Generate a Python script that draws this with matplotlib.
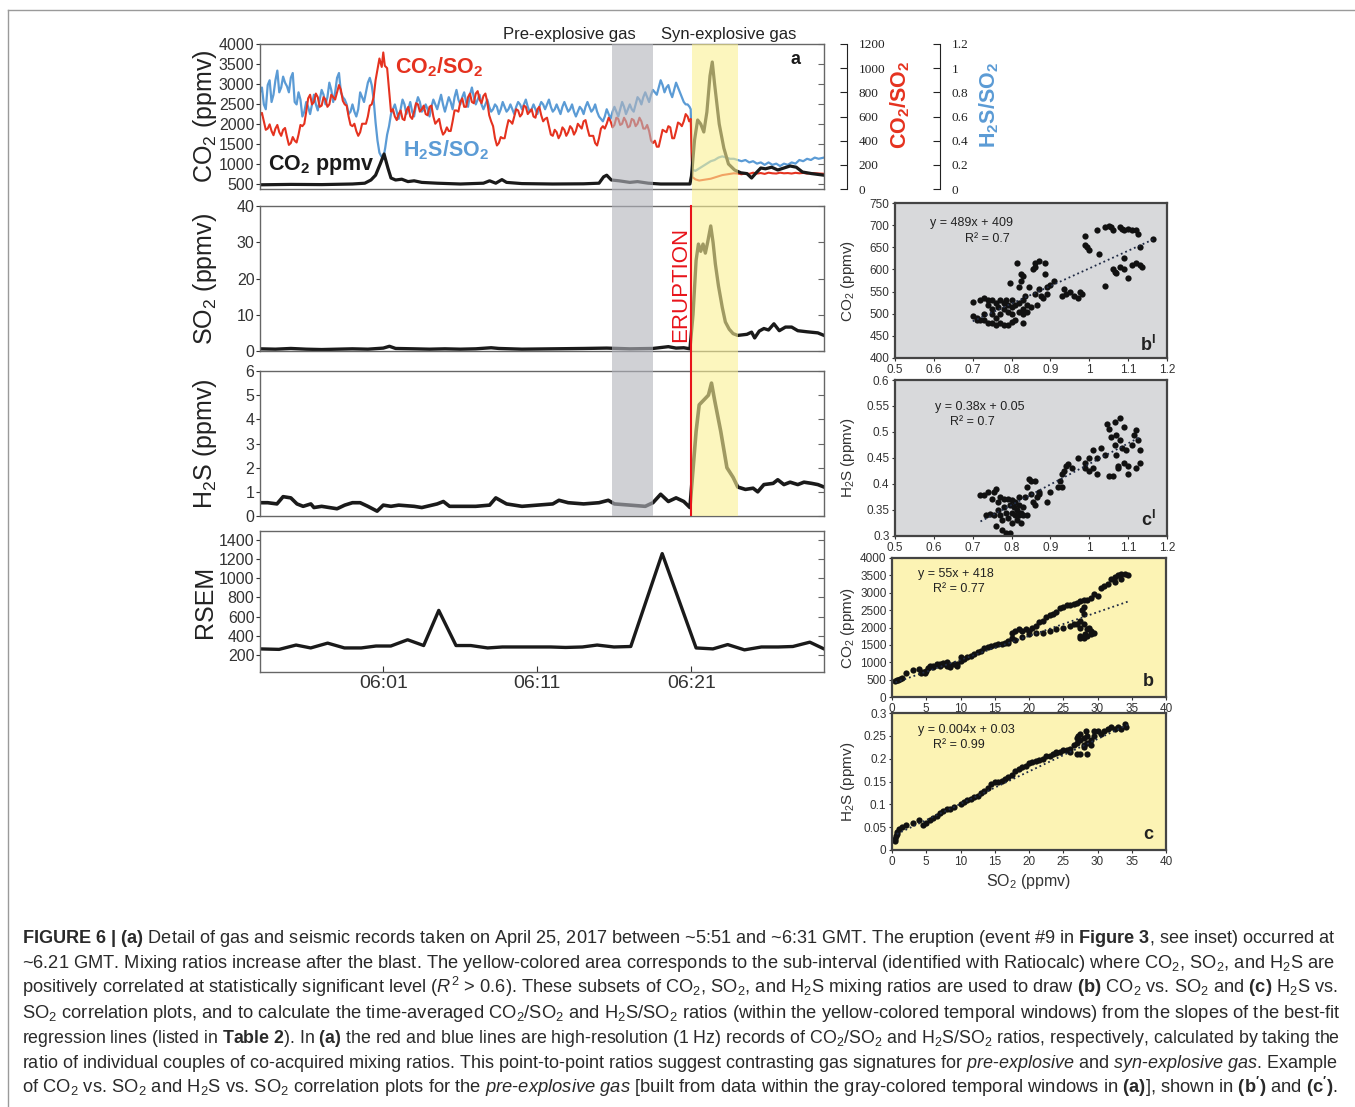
"""
Figure 6 recreation: gas ratios, SO2, H2S, RSEM time series and the
CO2/H2S vs SO2 correlation plots of the pre- and syn-explosive gas.
"""

import matplotlib.pyplot as plt
from matplotlib.lines import Line2D

plt.rcParams["font.family"] = ["Liberation Sans", "DejaVu Sans"]
plt.rcParams["mathtext.fontset"] = "custom"
plt.rcParams["mathtext.rm"] = "Liberation Sans"
plt.rcParams["mathtext.it"] = "Liberation Sans:italic"
plt.rcParams["mathtext.bf"] = "Liberation Sans:bold"

# ---------------------------------------------------------------- data
# time axis: minutes after 06:00 GMT
t_min, t_max = -7.0, 29.6
pre_window = (15.87, 18.53)
syn_window = (21.06, 24.05)
eruption_t = 20.95
time_ticks = [1, 11, 21]
time_labels = ["06:01", "06:11", "06:21"]

# CO2/SO2 ratio (1 Hz record, read every ~15 s)
co2so2 = [
    (-7.0, 610), (-6.75, 560), (-6.5, 500), (-6.25, 480), (-6.0, 500),
    (-5.75, 470), (-5.5, 490), (-5.25, 430), (-5.0, 380), (-4.75, 400),
    (-4.5, 450), (-4.25, 520), (-4.0, 640), (-3.75, 780), (-3.5, 720),
    (-3.25, 760), (-3.0, 690), (-2.75, 740), (-2.5, 700), (-2.25, 760),
    (-2.0, 800), (-1.75, 820), (-1.5, 700), (-1.25, 600), (-1.0, 520),
    (-0.75, 480), (-0.5, 470), (-0.25, 540), (0.0, 600), (0.25, 700),
    (0.5, 900), (0.75, 1080), (0.9, 1010), (1.0, 1130), (1.1, 1020),
    (1.25, 1000), (1.5, 640), (1.75, 600), (2.0, 620), (2.25, 580),
    (2.5, 650), (2.75, 600), (3.0, 640), (3.25, 700), (3.5, 660),
    (3.75, 620), (4.0, 680), (4.25, 600), (4.5, 560), (4.75, 500),
    (5.0, 470), (5.25, 480), (5.5, 560), (5.75, 650), (6.0, 720),
    (6.25, 680), (6.5, 760), (6.75, 720), (7.0, 790), (7.25, 740),
    (7.5, 770), (7.75, 720), (8.0, 560), (8.25, 420), (8.5, 380),
    (8.75, 420), (9.0, 500), (9.25, 560), (9.5, 600), (9.75, 650),
    (10.0, 620), (10.25, 680), (10.5, 640), (10.75, 600), (11.0, 660),
    (11.25, 610), (11.5, 580), (11.75, 520), (12.0, 440), (12.25, 470),
    (12.5, 450), (12.75, 490), (13.0, 470), (13.25, 500), (13.5, 480),
    (13.75, 520), (14.0, 560), (14.25, 500), (14.5, 440), (14.75, 380),
    (15.0, 420), (15.25, 520), (15.5, 540), (15.75, 560), (16.0, 530),
    (16.25, 580), (16.5, 540), (16.75, 560), (17.0, 520), (17.25, 570),
    (17.5, 540), (17.75, 560), (18.0, 500), (18.25, 480), (18.5, 380),
    (18.75, 350), (19.0, 420), (19.25, 480), (19.5, 520), (19.75, 420),
    (20.0, 480), (20.25, 540), (20.5, 560), (20.75, 600), (20.95, 580),
    (21.05, 100), (21.25, 80), (21.5, 70), (21.75, 75), (22.0, 80),
    (22.25, 85), (22.5, 95), (22.75, 105), (23.0, 115), (23.25, 120),
    (23.5, 125), (23.75, 130), (24.0, 128), (24.25, 122), (24.5, 130),
    (24.75, 125), (25.0, 135), (25.25, 128), (25.5, 132), (25.75, 125),
    (26.0, 135), (26.25, 130), (26.5, 128), (26.75, 135), (27.0, 130),
    (27.25, 132), (27.5, 128), (27.75, 134), (28.0, 130), (28.25, 133),
    (28.5, 128), (28.75, 132), (29.0, 130), (29.25, 128), (29.6, 126),
]
# in-between samples showing the 1 Hz scatter of the ratio
co2so2_detail = [
    (-6.875, 630), (-6.625, 490), (-6.375, 535), (-6.125, 445), (-5.875, 530),
    (-5.625, 440), (-5.375, 505), (-5.125, 365), (-4.875, 430), (-4.625, 385),
    (-4.375, 530), (-4.125, 540), (-3.875, 750), (-3.625, 700), (-3.375, 790),
    (-3.125, 680), (-2.875, 760), (-2.625, 680), (-2.375, 780), (-2.125, 740),
    (-1.875, 860), (-1.625, 730), (-1.375, 690), (-1.125, 530), (-0.875, 540),
    (-0.625, 440), (-0.375, 540), (-0.125, 540), (0.125, 690), (0.375, 760),
    (1.625, 660), (1.875, 570), (2.125, 650), (2.375, 570), (2.625, 680),
    (2.875, 580), (3.125, 710), (3.375, 640), (3.625, 690), (3.875, 610),
    (4.125, 690), (4.375, 540), (4.625, 580), (4.875, 450), (5.125, 510),
    (5.375, 480), (5.625, 650), (5.875, 640), (6.125, 750), (6.375, 680),
    (6.625, 790), (6.875, 710), (7.125, 810), (7.375, 710), (7.625, 790),
    (7.875, 610), (8.125, 520), (8.375, 360), (8.625, 430), (8.875, 420),
    (9.125, 570), (9.375, 540), (9.625, 660), (9.875, 600), (10.125, 690),
    (10.375, 620), (10.625, 660), (10.875, 590), (11.125, 680), (11.375, 560),
    (11.625, 590), (11.875, 450), (12.125, 490), (12.375, 420), (12.625, 510),
    (12.875, 440), (13.125, 520), (13.375, 450), (13.625, 540), (13.875, 500),
    (14.125, 570), (14.375, 440), (14.625, 440), (14.875, 360), (15.125, 500),
    (15.375, 500), (15.625, 590), (15.875, 510), (16.125, 590), (16.375, 530),
    (16.625, 590), (16.875, 510), (17.125, 580), (17.375, 520), (17.625, 590),
    (17.875, 500), (18.125, 530), (18.375, 400), (18.625, 400), (18.875, 350),
    (19.125, 490), (19.375, 470), (19.625, 510), (19.875, 420), (20.125, 550),
    (20.375, 520), (20.625, 620), (20.85, 560),
]

# H2S/SO2 ratio
h2sso2 = [
    (-7.0, 0.80), (-6.75, 0.70), (-6.5, 0.86), (-6.25, 0.72), (-6.0, 0.90),
    (-5.75, 0.80), (-5.5, 0.93), (-5.25, 0.85), (-5.0, 0.92), (-4.75, 0.72),
    (-4.5, 0.80), (-4.25, 0.60), (-4.0, 0.72), (-3.75, 0.62), (-3.5, 0.78),
    (-3.25, 0.65), (-3.0, 0.82), (-2.75, 0.70), (-2.5, 0.88), (-2.25, 0.72),
    (-2.0, 0.92), (-1.75, 0.80), (-1.5, 0.74), (-1.25, 0.62), (-1.0, 0.70),
    (-0.75, 0.60), (-0.5, 0.80), (-0.25, 0.72), (0.0, 0.88), (0.25, 0.86),
    (0.5, 0.55), (0.75, 0.30), (1.0, 0.25), (1.25, 0.45), (1.5, 0.62),
    (1.75, 0.70), (2.0, 0.58), (2.25, 0.74), (2.5, 0.62), (2.75, 0.72),
    (3.0, 0.60), (3.25, 0.76), (3.5, 0.64), (3.75, 0.70), (4.0, 0.60),
    (4.25, 0.74), (4.5, 0.66), (4.75, 0.78), (5.0, 0.64), (5.25, 0.76),
    (5.5, 0.66), (5.75, 0.82), (6.0, 0.70), (6.25, 0.80), (6.5, 0.68),
    (6.75, 0.84), (7.0, 0.70), (7.25, 0.78), (7.5, 0.66), (7.75, 0.74),
    (8.0, 0.64), (8.25, 0.70), (8.5, 0.62), (8.75, 0.72), (9.0, 0.64),
    (9.25, 0.70), (9.5, 0.62), (9.75, 0.72), (10.0, 0.66), (10.25, 0.74),
    (10.5, 0.64), (10.75, 0.70), (11.0, 0.62), (11.25, 0.72), (11.5, 0.66),
    (11.75, 0.74), (12.0, 0.64), (12.25, 0.70), (12.5, 0.62), (12.75, 0.72),
    (13.0, 0.64), (13.25, 0.70), (13.5, 0.60), (13.75, 0.68), (14.0, 0.62),
    (14.25, 0.72), (14.5, 0.64), (14.75, 0.70), (15.0, 0.60), (15.25, 0.56),
    (15.5, 0.66), (15.75, 0.58), (16.0, 0.68), (16.25, 0.60), (16.5, 0.72),
    (16.75, 0.62), (17.0, 0.70), (17.25, 0.64), (17.5, 0.76), (17.75, 0.70),
    (18.0, 0.80), (18.25, 0.72), (18.5, 0.82), (18.75, 0.78), (19.0, 0.90),
    (19.25, 0.80), (19.5, 0.86), (19.75, 0.76), (20.0, 0.88), (20.25, 0.80),
    (20.5, 0.72), (20.75, 0.70), (20.95, 0.66), (21.05, 0.16), (21.25, 0.15),
    (21.5, 0.17), (21.75, 0.19), (22.0, 0.21), (22.25, 0.23), (22.5, 0.24),
    (22.75, 0.26), (23.0, 0.27), (23.25, 0.26), (23.5, 0.25), (23.75, 0.25),
    (24.0, 0.24), (24.25, 0.23), (24.5, 0.24), (24.75, 0.22), (25.0, 0.23),
    (25.25, 0.21), (25.5, 0.22), (25.75, 0.20), (26.0, 0.22), (26.25, 0.20),
    (26.5, 0.21), (26.75, 0.19), (27.0, 0.21), (27.25, 0.20), (27.5, 0.22),
    (27.75, 0.21), (28.0, 0.24), (28.25, 0.23), (28.5, 0.25), (28.75, 0.24),
    (29.0, 0.26), (29.25, 0.25), (29.6, 0.26),
]
h2sso2_detail = [
    (-6.875, 0.84), (-6.625, 0.66), (-6.375, 0.90), (-6.125, 0.78), (-5.875, 0.98),
    (-5.625, 0.84), (-5.375, 0.88), (-5.125, 0.80), (-4.875, 0.96), (-4.625, 0.70),
    (-4.375, 0.74), (-4.125, 0.64), (-3.875, 0.68), (-3.625, 0.70), (-3.375, 0.70),
    (-3.125, 0.74), (-2.875, 0.78), (-2.625, 0.76), (-2.375, 0.82), (-2.125, 0.80),
    (-1.875, 0.96), (-1.625, 0.76), (-1.375, 0.70), (-1.125, 0.64), (-0.875, 0.64),
    (-0.625, 0.66), (-0.375, 0.76), (-0.125, 0.80), (0.125, 0.92), (0.375, 0.74),
    (0.625, 0.40), (0.875, 0.27), (1.125, 0.34), (1.375, 0.52), (1.625, 0.66),
    (1.875, 0.64), (2.125, 0.66), (2.375, 0.70), (2.625, 0.66), (2.875, 0.64),
    (3.125, 0.70), (3.375, 0.72), (3.625, 0.66), (3.875, 0.66), (4.125, 0.68),
    (4.375, 0.70), (4.625, 0.72), (4.875, 0.70), (5.125, 0.70), (5.375, 0.72),
    (5.625, 0.76), (5.875, 0.74), (6.125, 0.76), (6.375, 0.72), (6.625, 0.78),
    (6.875, 0.76), (7.125, 0.74), (7.375, 0.70), (7.625, 0.70), (7.875, 0.68),
    (8.125, 0.66), (8.375, 0.68), (8.625, 0.66), (8.875, 0.68), (9.125, 0.66),
    (9.375, 0.66), (9.625, 0.68), (9.875, 0.70), (10.125, 0.70), (10.375, 0.68),
    (10.625, 0.66), (10.875, 0.66), (11.125, 0.68), (11.375, 0.70), (11.625, 0.70),
    (11.875, 0.68), (12.125, 0.66), (12.375, 0.66), (12.625, 0.68), (12.875, 0.68),
    (13.125, 0.66), (13.375, 0.64), (13.625, 0.64), (13.875, 0.66), (14.125, 0.68),
    (14.375, 0.68), (14.625, 0.66), (14.875, 0.64), (15.125, 0.58), (15.375, 0.60),
    (15.625, 0.62), (15.875, 0.64), (16.125, 0.64), (16.375, 0.66), (16.625, 0.68),
    (16.875, 0.66), (17.125, 0.66), (17.375, 0.70), (17.625, 0.74), (17.875, 0.76),
    (18.125, 0.76), (18.375, 0.78), (18.625, 0.80), (18.875, 0.84), (19.125, 0.86),
    (19.375, 0.84), (19.625, 0.80), (19.875, 0.82), (20.125, 0.84), (20.375, 0.76),
    (20.625, 0.70), (20.875, 0.68),
]

# CO2 (ppmv)
co2 = [
    (-7.0, 480), (-5.0, 490), (-3.0, 485), (-1.0, 500), (-0.2, 520),
    (0.2, 600), (0.5, 720), (0.8, 1000), (1.05, 1250), (1.3, 900),
    (1.5, 650), (1.8, 600), (2.2, 620), (2.6, 560), (3.0, 580),
    (3.5, 540), (4.5, 520), (6.0, 500), (7.5, 520), (7.9, 580),
    (8.3, 520), (8.7, 610), (9.0, 540), (10.0, 510), (12.0, 500),
    (14.0, 505), (15.0, 520), (15.3, 680), (15.5, 720), (15.8, 600),
    (16.3, 580), (17.0, 540), (17.5, 560), (18.2, 520), (19.0, 500),
    (20.9, 500), (21.0, 700), (21.2, 1600), (21.4, 2100), (21.6, 2000),
    (21.8, 1800), (22.0, 2300), (22.2, 3200), (22.35, 3550), (22.5, 3000),
    (22.8, 2000), (23.1, 1400), (23.4, 1000), (23.8, 850), (24.2, 780),
    (24.6, 760), (24.9, 650), (25.2, 780), (25.5, 900), (25.8, 880),
    (26.2, 920), (26.6, 850), (27.0, 900), (27.4, 950), (27.8, 920),
    (28.2, 800), (28.8, 760), (29.6, 720),
]

# SO2 (ppmv)
so2 = [
    (-7.0, 0.6), (-6.0, 0.5), (-5.0, 0.7), (-4.0, 0.5), (-3.0, 0.4),
    (-2.0, 0.5), (-1.0, 0.6), (0.0, 0.5), (1.0, 0.8), (1.4, 1.3),
    (1.8, 0.7), (3.0, 0.6), (4.0, 0.5), (5.0, 0.6), (6.0, 0.5),
    (7.0, 0.6), (8.0, 0.9), (8.5, 0.7), (10.0, 0.5), (12.0, 0.6),
    (14.0, 0.7), (15.5, 0.8), (17.0, 0.6), (18.5, 0.7), (19.5, 1.2),
    (20.0, 0.8), (20.5, 0.9), (20.9, 0.6), (21.1, 10), (21.3, 25),
    (21.45, 29.5), (21.6, 27.5), (21.75, 29.5), (21.9, 27), (22.05, 30),
    (22.25, 34.5), (22.4, 30), (22.55, 24), (22.75, 18), (23.0, 12),
    (23.2, 8), (23.45, 6), (23.7, 4.8), (24.0, 4.3), (24.6, 4.6),
    (24.9, 5.2), (25.1, 3.6), (25.4, 5.5), (25.7, 6.2), (26.0, 5.8),
    (26.35, 7.5), (26.7, 5.6), (27.1, 6.6), (27.5, 6.6), (27.9, 5.6),
    (28.5, 5.3), (29.2, 5.0), (29.6, 4.3),
]

# H2S (ppmv)
h2s = [
    (-7.0, 0.55), (-6.5, 0.55), (-5.9, 0.5), (-5.5, 0.8), (-5.0, 0.75),
    (-4.6, 0.5), (-4.2, 0.4), (-3.7, 0.5), (-3.5, 0.35), (-3.0, 0.4),
    (-2.5, 0.35), (-2.0, 0.3), (-1.5, 0.45), (-1.0, 0.55), (-0.5, 0.55),
    (0.0, 0.4), (0.6, 0.2), (1.0, 0.45), (1.5, 0.4), (2.0, 0.45),
    (3.0, 0.4), (3.5, 0.35), (4.5, 0.5), (4.9, 0.6), (5.3, 0.4),
    (6.0, 0.4), (7.0, 0.4), (7.9, 0.45), (8.3, 0.75), (9.0, 0.5),
    (10.0, 0.4), (11.0, 0.45), (12.0, 0.5), (12.4, 0.65), (13.0, 0.55),
    (14.0, 0.5), (15.0, 0.55), (15.6, 0.65), (16.0, 0.5), (17.0, 0.45),
    (18.0, 0.4), (18.5, 0.55), (19.0, 0.9), (19.5, 0.6), (20.0, 0.75),
    (20.5, 0.6), (20.9, 0.35), (21.3, 3.5), (21.5, 4.6), (21.8, 4.8),
    (22.1, 5.0), (22.3, 5.5), (22.5, 4.8), (22.9, 3.5), (23.3, 2.0),
    (23.7, 1.6), (24.0, 1.2), (24.5, 1.1), (25.0, 1.15), (25.3, 1.0),
    (25.7, 1.3), (26.3, 1.35), (26.6, 1.5), (27.0, 1.3), (27.4, 1.4),
    (27.9, 1.3), (28.3, 1.4), (28.8, 1.35), (29.2, 1.3), (29.6, 1.2),
]

# RSEM
rsem = [
    (-7.0, 265), (-5.76, 260), (-4.66, 305), (-3.71, 275), (-2.61, 325),
    (-1.52, 275), (-0.43, 275), (0.53, 295), (1.49, 295), (2.58, 360),
    (3.62, 300), (4.6, 665), (5.72, 300), (6.68, 300), (7.77, 275),
    (8.73, 285), (9.68, 285), (10.78, 285), (11.87, 285), (12.83, 280),
    (13.92, 285), (14.88, 305), (15.97, 285), (17.06, 290), (19.1, 1255),
    (21.3, 275), (22.39, 265), (23.35, 310), (24.44, 255), (25.54, 285),
    (26.63, 285), (27.58, 290), (28.68, 335), (29.6, 265),
]

# b' : CO2 vs SO2, pre-explosive gas
pre_co2 = [
    (0.70, 527), (0.70, 495), (0.71, 490), (0.71, 485), (0.72, 530),
    (0.72, 485), (0.73, 535), (0.73, 500), (0.73, 485), (0.74, 530),
    (0.74, 520), (0.74, 480), (0.75, 530), (0.75, 510), (0.75, 480),
    (0.75, 500), (0.76, 525), (0.76, 490), (0.76, 475), (0.765, 515),
    (0.77, 530), (0.77, 480), (0.77, 500), (0.78, 525), (0.78, 475),
    (0.78, 510), (0.785, 530), (0.79, 520), (0.79, 505), (0.79, 475),
    (0.80, 530), (0.80, 515), (0.80, 482), (0.80, 500), (0.81, 485),
    (0.81, 520), (0.815, 615), (0.82, 505), (0.82, 525), (0.82, 560),
    (0.825, 575), (0.825, 590), (0.83, 510), (0.83, 480), (0.83, 530),
    (0.83, 500), (0.835, 540), (0.84, 505), (0.84, 520), (0.845, 560),
    (0.85, 515), (0.855, 600), (0.86, 605), (0.86, 615), (0.86, 545),
    (0.865, 520), (0.87, 620), (0.87, 555), (0.875, 540), (0.88, 535),
    (0.885, 615), (0.885, 590), (0.89, 545), (0.89, 560), (0.90, 565),
    (0.91, 575), (0.795, 570), (0.83, 585), (0.93, 540), (0.935, 555),
    (0.94, 545), (0.95, 550), (0.96, 540), (0.97, 535), (0.975, 550),
    (0.98, 545), (0.99, 675), (0.99, 655), (0.995, 650), (1.0, 645),
    (1.02, 688), (1.025, 635), (1.04, 695), (1.05, 697), (1.055, 695),
    (1.06, 690), (1.08, 695), (1.085, 692), (1.09, 690), (1.10, 692),
    (1.11, 690), (1.12, 688), (1.125, 680), (1.04, 563), (1.06, 600),
    (1.065, 595), (1.07, 593), (1.08, 605), (1.09, 600), (1.09, 625),
    (1.10, 580), (1.11, 610), (1.12, 615), (1.13, 610), (1.135, 605),
    (1.13, 650), (1.165, 668),
]
pre_co2_fit = [(0.70, 483), (1.165, 668)]

# c' : H2S vs SO2, pre-explosive gas
pre_h2s = [
    (0.72, 0.378), (0.73, 0.378), (0.735, 0.340), (0.74, 0.385), (0.745, 0.342),
    (0.75, 0.372), (0.755, 0.340), (0.755, 0.385), (0.76, 0.390), (0.76, 0.320),
    (0.765, 0.365), (0.765, 0.350), (0.77, 0.375), (0.77, 0.340), (0.775, 0.330),
    (0.775, 0.312), (0.78, 0.372), (0.78, 0.355), (0.785, 0.345), (0.785, 0.305),
    (0.79, 0.372), (0.79, 0.335), (0.795, 0.305), (0.795, 0.360), (0.80, 0.370),
    (0.80, 0.345), (0.80, 0.325), (0.805, 0.355), (0.81, 0.365), (0.81, 0.340),
    (0.815, 0.350), (0.815, 0.330), (0.82, 0.375), (0.82, 0.360), (0.82, 0.340),
    (0.825, 0.325), (0.825, 0.345), (0.83, 0.355), (0.83, 0.340), (0.835, 0.375),
    (0.84, 0.340), (0.84, 0.395), (0.845, 0.410), (0.85, 0.405), (0.85, 0.380),
    (0.855, 0.365), (0.86, 0.360), (0.86, 0.405), (0.865, 0.375), (0.87, 0.385),
    (0.87, 0.380), (0.89, 0.365), (0.90, 0.385), (0.92, 0.395), (0.925, 0.405),
    (0.93, 0.42), (0.935, 0.425), (0.94, 0.435), (0.945, 0.438), (0.93, 0.395),
    (0.955, 0.43), (0.97, 0.45), (0.99, 0.44), (0.99, 0.43), (1.0, 0.45),
    (1.0, 0.425), (1.01, 0.465), (1.01, 0.43), (1.02, 0.45), (1.02, 0.42),
    (1.03, 0.47), (1.04, 0.455), (1.045, 0.515), (1.05, 0.505), (1.05, 0.415),
    (1.055, 0.49), (1.06, 0.415), (1.065, 0.52), (1.065, 0.475), (1.07, 0.495),
    (1.07, 0.455), (1.075, 0.435), (1.075, 0.43), (1.08, 0.527), (1.08, 0.485),
    (1.085, 0.47), (1.09, 0.51), (1.09, 0.44), (1.095, 0.465), (1.10, 0.435),
    (1.10, 0.42), (1.11, 0.475), (1.115, 0.495), (1.12, 0.503), (1.12, 0.43),
    (1.125, 0.485), (1.13, 0.465), (1.13, 0.44),
]
pre_h2s_fit = [(0.72, 0.328), (1.13, 0.49)]

# b : CO2 vs SO2, syn-explosive gas
syn_co2 = [
    (0.5, 450), (0.7, 500), (0.9, 480), (1.2, 520), (1.5, 560), (2.0, 680),
    (3.0, 780), (4.0, 820), (4.2, 680), (4.5, 720), (4.8, 700), (5.0, 760),
    (5.2, 830), (5.5, 880), (6.0, 900), (6.0, 860), (6.5, 950), (7.0, 960),
    (7.0, 900), (7.5, 980), (7.5, 950), (8.0, 1020), (8.0, 900), (8.5, 920),
    (8.5, 870), (9.0, 950), (9.5, 960), (9.5, 880), (10.0, 1050), (10.0, 1150),
    (10.5, 1100), (11.0, 1150), (11.5, 1180), (12.0, 1250), (12.5, 1300),
    (13.0, 1330), (13.5, 1400), (14.0, 1450), (14.5, 1480), (15.0, 1500),
    (15.5, 1520), (16.0, 1520), (16.5, 1540), (17.0, 1600), (17.5, 1700),
    (17.5, 1850), (18.0, 1900), (18.5, 1950), (19.0, 1900), (19.5, 1950),
    (20.0, 1900), (20.5, 2000), (21.0, 2050), (21.5, 2150), (22.0, 2200),
    (22.5, 2300), (23.0, 2350), (23.5, 2400), (24.0, 2450), (24.5, 2550),
    (25.0, 2600), (25.5, 2650), (26.0, 2650), (26.5, 2680), (27.0, 2700),
    (27.5, 2750), (28.0, 2780), (28.5, 2800), (29.0, 2850), (29.5, 2950),
    (30.0, 2900), (30.5, 3150), (31.0, 3200), (31.5, 3250), (32.0, 3400),
    (32.5, 3450), (33.0, 3500), (33.5, 3550), (34.0, 3550), (34.5, 3520),
    (33.5, 3400), (32.5, 3300), (17.0, 1550), (18.0, 1650), (19.0, 1720),
    (20.0, 1800), (21.0, 1850), (22.0, 1850), (23.0, 1900), (24.0, 1950),
    (25.0, 2000), (26.0, 2050), (27.0, 2100), (27.5, 2200), (27.5, 2000),
    (28.0, 2400), (28.0, 2100), (27.5, 1750), (27.5, 1700), (28.0, 1700),
    (28.2, 1800), (28.5, 1950), (29.0, 1900), (29.0, 1800), (29.5, 1850),
    (28.5, 1750), (28.8, 2000), (27.8, 2500), (28.0, 2600), (26.5, 2100),
]
syn_co2_fit = [(0.5, 420), (34.5, 2750)]

# c : H2S vs SO2, syn-explosive gas
syn_h2s = [
    (0.5, 0.02), (0.5, 0.025), (0.6, 0.03), (0.7, 0.035), (0.8, 0.04),
    (1.0, 0.045), (1.5, 0.05), (2.0, 0.055), (3.0, 0.06), (4.0, 0.065),
    (4.5, 0.055), (5.0, 0.06), (5.5, 0.065), (6.0, 0.07), (6.5, 0.075),
    (7.0, 0.08), (7.5, 0.085), (8.0, 0.09), (8.5, 0.09), (9.0, 0.095),
    (10.0, 0.1), (10.5, 0.105), (11.0, 0.11), (11.5, 0.112), (12.0, 0.115),
    (12.5, 0.118), (13.0, 0.125), (13.5, 0.13), (14.0, 0.135), (14.5, 0.145),
    (15.0, 0.15), (15.5, 0.148), (16.0, 0.152), (16.5, 0.155), (17.0, 0.16),
    (17.5, 0.165), (18.0, 0.172), (18.5, 0.178), (19.0, 0.182), (19.5, 0.185),
    (20.0, 0.19), (20.5, 0.192), (21.0, 0.195), (21.5, 0.198), (22.0, 0.2),
    (22.5, 0.205), (23.0, 0.205), (23.5, 0.21), (24.0, 0.212), (24.5, 0.215),
    (25.0, 0.218), (25.5, 0.22), (26.0, 0.222), (26.5, 0.23), (27.0, 0.235),
    (27.0, 0.245), (27.2, 0.25), (27.5, 0.24), (27.5, 0.255), (28.0, 0.23),
    (28.0, 0.245), (28.0, 0.225), (28.3, 0.26), (28.5, 0.235), (28.5, 0.25),
    (29.0, 0.24), (29.0, 0.23), (29.5, 0.26), (29.5, 0.25), (30.0, 0.26),
    (30.5, 0.255), (31.0, 0.26), (31.5, 0.265), (32.0, 0.27), (32.5, 0.265),
    (33.0, 0.27), (33.5, 0.265), (34.0, 0.275), (34.2, 0.27), (27.0, 0.21),
    (27.5, 0.21), (28.5, 0.21), (26.0, 0.215), (24.0, 0.215),
]
syn_h2s_fit = [(0.7, 0.035), (34.5, 0.275)]

caption_lines = [
    r"$\bf{FIGURE\ 6\ |\ (a)}$ Detail of gas and seismic records taken on April 25, 2017 between ~5:51 and ~6:31 GMT. The eruption (event #9 in $\bf{Figure\ 3}$, see inset) occurred at",
    r"~6.21 GMT. Mixing ratios increase after the blast. The yellow-colored area corresponds to the sub-interval (identified with Ratiocalc) where CO$_2$, SO$_2$, and H$_2$S are",
    r"positively correlated at statistically significant level ($\it{R}^2$ > 0.6). These subsets of CO$_2$, SO$_2$, and H$_2$S mixing ratios are used to draw $\bf{(b)}$ CO$_2$ vs. SO$_2$ and $\bf{(c)}$ H$_2$S vs.",
    r"SO$_2$ correlation plots, and to calculate the time-averaged CO$_2$/SO$_2$ and H$_2$S/SO$_2$ ratios (within the yellow-colored temporal windows) from the slopes of the best-fit",
    r"regression lines (listed in $\bf{Table\ 2}$). In $\bf{(a)}$ the red and blue lines are high-resolution (1 Hz) records of CO$_2$/SO$_2$ and H$_2$S/SO$_2$ ratios, respectively, calculated by taking the",
    r"ratio of individual couples of co-acquired mixing ratios. This point-to-point ratios suggest contrasting gas signatures for $\it{pre}$-$\it{explosive}$ and $\it{syn}$-$\it{explosive\ gas}$. Example",
    r"of CO$_2$ vs. SO$_2$ and H$_2$S vs. SO$_2$ correlation plots for the $\it{pre}$-$\it{explosive\ gas}$ [built from data within the gray-colored temporal windows in $\bf{(a)}$], shown in $\bf{(b')}$ and $\bf{(c')}$.",
]

# ---------------------------------------------------------------- style
RED = "#e5321f"
BLUE = "#5b9bd5"
BLACK = "#1a1a1a"
TEXT = "#222222"
GRAY_BAND = "#b3b5bc"
YELLOW_BAND = "#faf093"
GRAY_BG = "#d8d9db"
YELLOW_BG = "#fcf3b4"

W, H = 1355, 1107


def box(left, top, right, bottom):
    return [left / W, 1 - bottom / H, (right - left) / W, (bottom - top) / H]


def split(pairs):
    pairs = sorted(pairs)
    return [p[0] for p in pairs], [p[1] for p in pairs]


def style_time_axis(ax, ylim, yticks, ylabel):
    ax.set_xlim(t_min, t_max)
    ax.set_ylim(*ylim)
    ax.set_yticks(yticks)
    ax.set_xticks([])
    ax.tick_params(axis="y", direction="out", length=3, labelsize=11.5,
                   colors="#333333", pad=1)
    for s in ax.spines.values():
        s.set_color("#666666")
        s.set_linewidth(1.0)
    right = ax.secondary_yaxis("right")
    right.set_yticks(yticks)
    right.tick_params(axis="y", direction="in", length=4, labelright=False,
                      color="#666666")
    right.spines["right"].set_visible(False)
    ax.set_ylabel(ylabel, fontsize=18, color=TEXT, va="center")
    ax.yaxis.set_label_coords(-0.0975, 0.5)


def style_scatter(ax, bg, xlim, xticks, xlabels, ylim, yticks, ylabels, ylabel):
    ax.set_facecolor(bg)
    ax.set_xlim(*xlim)
    ax.set_ylim(*ylim)
    ax.set_xticks(xticks, xlabels)
    ax.set_yticks(yticks, ylabels)
    ax.tick_params(direction="out", length=2.5, labelsize=8.5, colors="#333333",
                   pad=1.5)
    for s in ax.spines.values():
        s.set_color("#444444")
        s.set_linewidth(1.6)
    ax.set_ylabel(ylabel, fontsize=11, color="#333333", va="center")


fig = plt.figure(figsize=(W / 100, H / 100), dpi=100)

# ---------------------------------------------------------------- panel a
ax_blue = fig.add_axes(box(260, 44, 824, 189), zorder=1)
ax_blue.axis("off")
ax_blue.set_xlim(t_min, t_max)
ax_blue.set_ylim(0, 1.2)
bt, bv = split(h2sso2 + h2sso2_detail)
ax_blue.plot(bt, bv, color=BLUE, lw=1.6)

ax_red = fig.add_axes(box(260, 44, 824, 189), zorder=2)
ax_red.axis("off")
ax_red.set_xlim(t_min, t_max)
ax_red.set_ylim(0, 1200)
rt, rv = split(co2so2 + co2so2_detail)
ax_red.plot(rt, rv, color=RED, lw=1.5)

ax_a = fig.add_axes(box(260, 44, 824, 189), zorder=3)
ax_a.patch.set_visible(False)
ct, cv = split(co2)
ax_a.plot(ct, cv, color=BLACK, lw=2.3)
style_time_axis(ax_a, (375, 4000), list(range(500, 4001, 500)), r"CO$_2$ (ppmv)")
ax_a.text(1.78, 3425, r"$\mathbf{CO_2/SO_2}$", color=RED, fontsize=15.5,
          ha="left", va="center")
ax_a.text(2.3, 1350, r"$\mathbf{H_2S/SO_2}$", color=BLUE, fontsize=15.5,
          ha="left", va="center")
ax_a.text(-6.47, 975, r"$\mathbf{CO_2}$ ppmv", color=BLACK, fontsize=15.5,
          fontweight="bold", ha="left", va="center")
ax_a.text(27.75, 3600, "a", fontsize=13, fontweight="bold", color=BLACK,
          ha="center", va="center")
ax_a.text(13.1, 4250, "Pre-explosive gas", fontsize=12, color=TEXT,
          ha="center", va="center", clip_on=False)
ax_a.text(23.4, 4250, "Syn-explosive gas", fontsize=12, color=TEXT,
          ha="center", va="center", clip_on=False)

# ratio scales at the right of panel a
for x_px, lim, ticks, labels, name, color, name_x in [
    (847, 1200, [0, 200, 400, 600, 800, 1000, 1200],
     ["0", "200", "400", "600", "800", "1000", "1200"],
     r"$\mathbf{CO_2/SO_2}$", RED, 900),
    (940, 1.2, [0, 0.2, 0.4, 0.6, 0.8, 1.0, 1.2],
     ["0", "0.2", "0.4", "0.6", "0.8", "1", "1.2"],
     r"$\mathbf{H_2S/SO_2}$", BLUE, 989),
]:
    sc = fig.add_axes(box(x_px, 44, x_px + 0.5, 189))
    sc.patch.set_visible(False)
    sc.set_ylim(0, lim)
    sc.set_yticks(ticks, labels, family="Liberation Serif")
    sc.set_xticks([])
    for side in ["top", "bottom", "right"]:
        sc.spines[side].set_visible(False)
    sc.spines["left"].set_color("#222222")
    sc.tick_params(axis="y", left=True, right=False, labelleft=False,
                   labelright=True, direction="out", length=5, labelsize=9.5,
                   colors="#222222", pad=3)
    fig.text(name_x / W, 1 - 105 / H, name, color=color, fontsize=15.5,
             rotation=90, ha="center", va="center")

# ---------------------------------------------------------------- SO2, H2S
ax_so2 = fig.add_axes(box(260, 206, 824, 351))
st, sv = split(so2)
ax_so2.plot(st, sv, color=BLACK, lw=2.4)
style_time_axis(ax_so2, (0, 40), [0, 10, 20, 30, 40], r"SO$_2$ (ppmv)")
ax_so2.text(20.3, 18.5, "ERUPTION", color="#e8141b", fontsize=16,
            rotation=90, ha="center", va="center")

ax_h2s = fig.add_axes(box(260, 371, 824, 516))
ht, hv = split(h2s)
ax_h2s.plot(ht, hv, color=BLACK, lw=2.6)
style_time_axis(ax_h2s, (0, 6), [0, 1, 2, 3, 4, 5, 6], r"H$_2$S (ppmv)")

# ---------------------------------------------------------------- RSEM
ax_rs = fig.add_axes(box(260, 531, 824, 672))
st_, sv_ = split(rsem)
ax_rs.plot(st_, sv_, color=BLACK, lw=2.4)
style_time_axis(ax_rs, (25, 1490), list(range(200, 1401, 200)), "RSEM")
ax_rs.set_xticks(time_ticks, time_labels)
ax_rs.tick_params(axis="x", direction="in", length=4, labelsize=14,
                  colors="#333333", pad=2)

# ---------------------------------------------------------------- windows
ax_ov = fig.add_axes(box(260, 44, 824, 516), zorder=10)
ax_ov.axis("off")
ax_ov.set_xlim(t_min, t_max)
ax_ov.set_ylim(0, 1)
ax_ov.axvspan(*pre_window, color=GRAY_BAND, alpha=0.62, lw=0)
ax_ov.axvspan(*syn_window, color=YELLOW_BAND, alpha=0.6, lw=0)
ax_ov.axvline(eruption_t, ymin=0, ymax=(516 - 206) / (516 - 44),
              color="#e8141b", lw=1.5)

# ---------------------------------------------------------------- scatters
ax_bp = fig.add_axes(box(895, 203, 1167, 358))
x, y = split(pre_co2)
ax_bp.plot(x, y, "o", color="#111111", ms=4.5, mew=0)
fx, fy = split(pre_co2_fit)
ax_bp.plot(fx, fy, ":", color="#1f2a44", lw=1.3)
style_scatter(ax_bp, GRAY_BG, (0.5, 1.2), [0.5, 0.6, 0.7, 0.8, 0.9, 1.0, 1.1, 1.2],
              ["0.5", "0.6", "0.7", "0.8", "0.9", "1", "1.1", "1.2"],
              (400, 750), list(range(400, 751, 50)),
              [str(v) for v in range(400, 751, 50)], r"CO$_2$ (ppmv)")
ax_bp.yaxis.set_label_coords(-0.173, 0.5)
ax_bp.text(0.129, 0.871, "y = 489x + 409", transform=ax_bp.transAxes,
           fontsize=9, color="#222222", va="center")
ax_bp.text(0.257, 0.768, "R² = 0.7", transform=ax_bp.transAxes,
           fontsize=9, color="#222222", va="center")
ax_bp.text(0.93, 0.085, r"$\mathbf{b^{I}}$", transform=ax_bp.transAxes,
           fontsize=13, color="#222222", ha="center", va="center")

ax_cp = fig.add_axes(box(895, 380, 1167, 536))
x, y = split(pre_h2s)
ax_cp.plot(x, y, "o", color="#111111", ms=4.5, mew=0)
fx, fy = split(pre_h2s_fit)
ax_cp.plot(fx, fy, ":", color="#1f2a44", lw=1.3)
style_scatter(ax_cp, GRAY_BG, (0.5, 1.2), [0.5, 0.6, 0.7, 0.8, 0.9, 1.0, 1.1, 1.2],
              ["0.5", "0.6", "0.7", "0.8", "0.9", "1", "1.1", "1.2"],
              (0.3, 0.6), [0.3, 0.35, 0.4, 0.45, 0.5, 0.55, 0.6],
              ["0.3", "0.35", "0.4", "0.45", "0.5", "0.55", "0.6"], r"H$_2$S (ppmv)")
ax_cp.yaxis.set_label_coords(-0.173, 0.5)
ax_cp.text(0.147, 0.827, "y = 0.38x + 0.05", transform=ax_cp.transAxes,
           fontsize=9, color="#222222", va="center")
ax_cp.text(0.202, 0.731, "R² = 0.7", transform=ax_cp.transAxes,
           fontsize=9, color="#222222", va="center")
ax_cp.text(0.93, 0.10, r"$\mathbf{c^{I}}$", transform=ax_cp.transAxes,
           fontsize=13, color="#222222", ha="center", va="center")

ax_b = fig.add_axes(box(892, 558, 1166, 697))
x, y = split(syn_co2)
ax_b.plot(x, y, "o", color="#111111", ms=4.5, mew=0)
fx, fy = split(syn_co2_fit)
ax_b.plot(fx, fy, ":", color="#1f2a44", lw=1.3)
style_scatter(ax_b, YELLOW_BG, (0, 40), list(range(0, 41, 5)),
              [str(v) for v in range(0, 41, 5)],
              (0, 4000), list(range(0, 4001, 500)),
              [str(v) for v in range(0, 4001, 500)], r"CO$_2$ (ppmv)")
ax_b.yaxis.set_label_coords(-0.16, 0.5)
ax_b.text(0.095, 0.885, "y = 55x + 418", transform=ax_b.transAxes,
          fontsize=9, color="#222222", va="center")
ax_b.text(0.15, 0.777, "R² = 0.77", transform=ax_b.transAxes,
          fontsize=9, color="#222222", va="center")
ax_b.text(0.934, 0.115, "b", transform=ax_b.transAxes, fontsize=13,
          fontweight="bold", color="#222222", ha="center", va="center")

ax_c = fig.add_axes(box(892, 713, 1166, 850))
x, y = split(syn_h2s)
ax_c.plot(x, y, "o", color="#111111", ms=4.5, mew=0)
fx, fy = split(syn_h2s_fit)
ax_c.plot(fx, fy, ":", color="#1f2a44", lw=1.3)
style_scatter(ax_c, YELLOW_BG, (0, 40), list(range(0, 41, 5)),
              [str(v) for v in range(0, 41, 5)],
              (0, 0.3), [0, 0.05, 0.1, 0.15, 0.2, 0.25, 0.3],
              ["0", "0.05", "0.1", "0.15", "0.2", "0.25", "0.3"], r"H$_2$S (ppmv)")
ax_c.yaxis.set_label_coords(-0.16, 0.5)
ax_c.set_xlabel(r"SO$_2$ (ppmv)", fontsize=11.5, color="#333333", labelpad=3)
ax_c.text(0.095, 0.876, "y = 0.004x + 0.03", transform=ax_c.transAxes,
          fontsize=9, color="#222222", va="center")
ax_c.text(0.15, 0.766, "R² = 0.99", transform=ax_c.transAxes,
          fontsize=9, color="#222222", va="center")
ax_c.text(0.934, 0.11, "c", transform=ax_c.transAxes, fontsize=13,
          fontweight="bold", color="#222222", ha="center", va="center")

# ---------------------------------------------------------------- caption
renderer = fig.canvas.get_renderer()
target_w = 1318
for i, line in enumerate(caption_lines):
    t = fig.text(22 / W, 1 - (943 + 25 * i) / H, line, fontsize=11.5,
                 color="#2a2a2a", ha="left", va="baseline")
    w = t.get_window_extent(renderer).width
    t.set_fontsize(11.5 * target_w / w)

# frame lines
fig.add_artist(Line2D([8 / W, 8 / W], [0, 1 - 10 / H], color="#9a9a9a", lw=1))
fig.add_artist(Line2D([8 / W, 1], [1 - 10 / H, 1 - 10 / H], color="#9a9a9a", lw=1))

fig.savefig("out.png", dpi=100)
